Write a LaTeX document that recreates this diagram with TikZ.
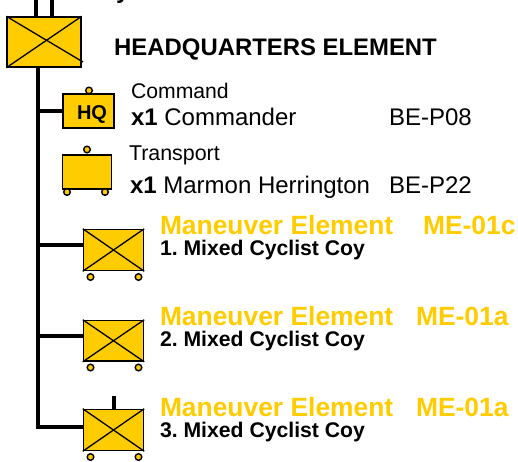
\documentclass[tikz,border=0pt]{standalone}
\usepackage{fontspec}
\setmainfont{Liberation Sans}
\frenchspacing
\definecolor{milgold}{RGB}{255,204,0}
\tikzset{x=1pt,y=-1pt,
 unitbox/.style={draw=black,fill=milgold,line width=1.5pt,rectangle,inner sep=0pt},
 wheel/.style={circle,draw=black,fill=milgold,line width=1.4pt,minimum size=6.6pt,inner sep=0pt},
 trunk/.style={line width=4pt,draw=black},
 cross/.style={line width=1.3pt,draw=black},
 gold/.style={anchor=base west,inner sep=0pt,outer sep=0pt,text=milgold,font=\fontsize{26.4}{28}\selectfont\bfseries},
 sub/.style={anchor=base west,inner sep=0pt,outer sep=0pt,text=black,font=\fontsize{21.2}{22}\selectfont\bfseries},
 reg/.style={anchor=base west,inner sep=0pt,outer sep=0pt,text=black,font=\fontsize{24}{26}\selectfont}}
\newcommand{\crossbox}[5]{% name,x0,y0,x1,y1
 \node[unitbox,minimum width=#4-#2,minimum height=#5-#3] (#1) at ({(#2+#4)/2},{(#3+#5)/2}) {};
 \draw[cross] (#1.north west) -- (#1.south east);
 \draw[cross] (#1.south west) -- (#1.north east);}
\begin{document}
\begin{tikzpicture}
\useasboundingbox (0,0) rectangle (518,461);
\fill[white] (0,0) rectangle (518,461);
% main unit
\node[unitbox,minimum width=74pt,minimum height=50pt] (hq) at (44,42) {};
\coordinate (hqx) at (83,62);
\draw[cross] (hq.north west) -- (hqx);
\draw[cross] (hq.south west) -- (hq.north east);
\coordinate (st1) at (36,0);
\coordinate (st2) at (52,0);
\draw[line width=3.8pt] (st1) -- (st1 |- hq.north);
\draw[line width=3.8pt] (st2) -- (st2 |- hq.north);
\node[anchor=base west,inner sep=0pt,font=\fontsize{24}{26}\selectfont\bfseries] (ytail) at (116,-2) {y};
% children
\node[unitbox,minimum width=51pt,minimum height=34pt] (cmd) at (88.5,111) {};
\node[anchor=base,inner sep=0pt,font=\fontsize{20}{22}\selectfont\bfseries] (cmdt) at (92,119) {HQ};
\node[wheel] (cmdw) at (89,90.5) {};
\node[unitbox,minimum width=49pt,minimum height=34pt] (trn) at (87,172) {};
\node[wheel] (trnw) at (87,149.5) {};
\node[wheel] (trnl) at (67,192) {};
\node[wheel] (trnr) at (105,192) {};
\crossbox{m1}{83.5}{229.5}{143.5}{270.5}
\node[wheel] at (90.5,277) {};
\node[wheel] at (138.5,277) {};
\crossbox{m2}{83.5}{320.5}{143.5}{361}
\node[wheel] at (90.5,367.5) {};
\node[wheel] at (138.5,367.5) {};
\crossbox{m3}{83.5}{409.5}{143.5}{450.5}
\node[wheel] at (90.5,457) {};
\node[wheel] at (138.5,457) {};
\coordinate (m3top) at (114,396);
\draw[line width=3.4pt] (m3top) -- (m3top |- m3.north);
% tree
\coordinate (tb) at (38,427);
\draw[trunk] (hq.south -| tb) -- (38,429);
\coordinate (j0) at (38,110.5);
\coordinate (j1) at (38,245);
\coordinate (j2) at (38,336);
\draw[trunk] (j0) -- (cmd.west |- j0);
\draw[trunk] (j1) -- (m1.west |- j1);
\draw[trunk] (j2) -- (m2.west |- j2);
\draw[trunk] (tb) -- (m3.west |- tb);
% text
\node[anchor=base west,inner sep=0pt,font=\fontsize{23.9}{26}\selectfont\bfseries] (t0) at (114,55) {HEADQUARTERS ELEMENT};
\node[reg,font=\fontsize{21.2}{24}\selectfont] (t1) at (131,98) {Command};
\node[reg] (t2) at (131,125) {\textbf{x1} Commander};
\node[reg] (t2b) at (389,125) {BE-P08};
\node[reg,font=\fontsize{21.4}{24}\selectfont] (t3) at (129,160) {Transport};
\node[reg] (t4) at (130,193) {\textbf{x1} Marmon Herrington};
\node[reg] (t4b) at (389,193) {BE-P22};
\node[gold] (g1) at (160,234) {Maneuver Element};
\node[gold] (g1b) at (423,234) {ME-01c};
\node[sub] (s1) at (160,255) {1. Mixed Cyclist Coy};
\node[gold] (g2) at (160,325) {Maneuver Element};
\node[gold] (g2b) at (416,325) {ME-01a};
\node[sub] (s2) at (160,346) {2. Mixed Cyclist Coy};
\node[gold] (g3) at (160,416) {Maneuver Element};
\node[gold] (g3b) at (416,416) {ME-01a};
\node[sub] (s3) at (160,437) {3. Mixed Cyclist Coy};
\end{tikzpicture}
\end{document}
